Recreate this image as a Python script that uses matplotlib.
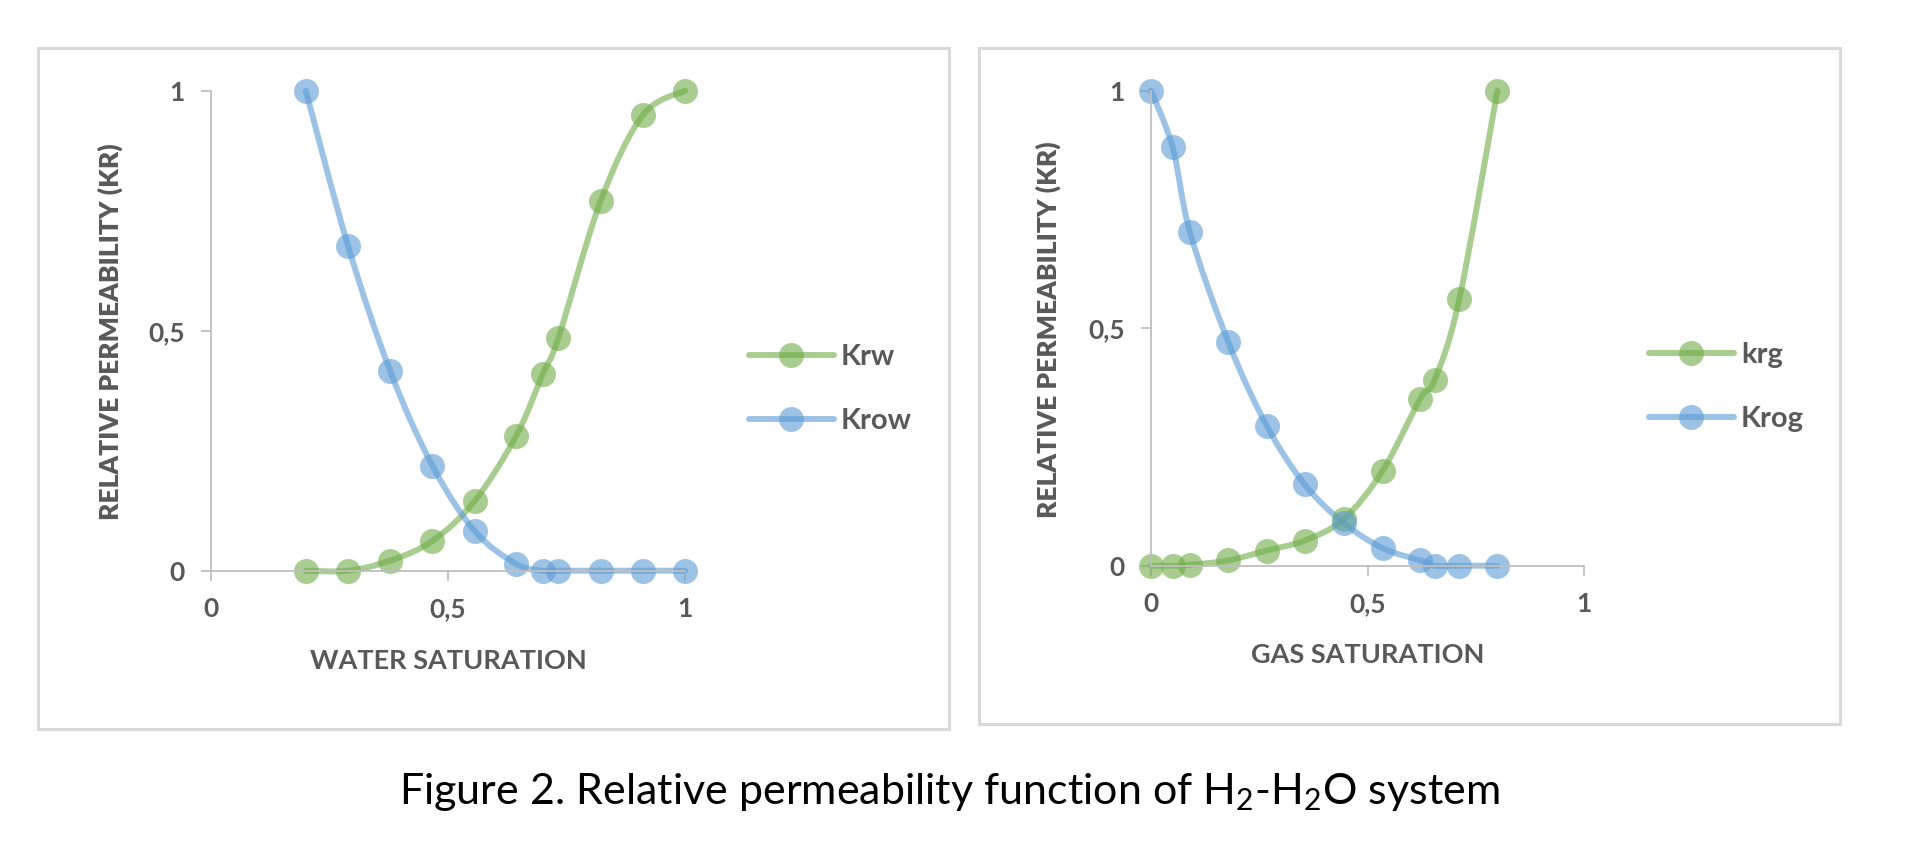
"""Relative permeability curves of the H2-H2O system, drawn like the Excel smoothed scatter charts."""
import matplotlib
matplotlib.use('Agg')
import matplotlib.pyplot as plt
from matplotlib.path import Path
from matplotlib.patches import PathPatch, Rectangle
import numpy as np

plt.rcParams['font.family'] = ['Lato', 'DejaVu Sans']
plt.rcParams['mathtext.fontset'] = 'custom'
plt.rcParams['mathtext.rm'] = 'Lato'

# Water / oil system
swValues = [0.2, 0.289, 0.378, 0.467, 0.556, 0.644, 0.7, 0.733, 0.822, 0.911, 1.0]
krwValues = [0.0, 0.0, 0.021, 0.062, 0.145, 0.281, 0.41, 0.485, 0.77, 0.949, 1.0]
krowValues = [1.0, 0.677, 0.416, 0.219, 0.083, 0.014, 0.0, 0.0, 0.0, 0.0, 0.0]

# Gas / oil system
sgValues = [0.0, 0.05, 0.09, 0.178, 0.267, 0.355, 0.445, 0.535, 0.622, 0.655, 0.712, 0.8]
krgValues = [0.0, 0.0, 0.002, 0.011, 0.032, 0.053, 0.098, 0.2, 0.352, 0.391, 0.561, 1.0]
krogValues = [1.0, 0.881, 0.702, 0.472, 0.295, 0.171, 0.09, 0.037, 0.011, 0.0, 0.0, 0.0]

tickValues = [0, 0.5, 1]
tickLabels = ['0', '0,5', '1']

GREEN = '#70AD47'
BLUE = '#5B9BD5'
TEXT = '#595959'
AXIS = '#BFBFBF'
ALPHA = 0.6
MARKER = 18


def smoothPath(x, y):
    """Excel-like smoothed line: Catmull-Rom segments written as cubic Bezier curves."""
    pts = np.column_stack([x, y]).astype(float)
    verts = [pts[0]]
    codes = [Path.MOVETO]
    for i in range(len(pts) - 1):
        p0 = pts[i - 1] if i > 0 else pts[i]
        p1, p2 = pts[i], pts[i + 1]
        p3 = pts[i + 2] if i + 2 < len(pts) else pts[i + 1]
        verts += [p1 + (p2 - p0) / 6, p2 - (p3 - p1) / 6, p2]
        codes += [Path.CURVE4] * 3
    return Path(verts, codes)


def drawSeries(ax, x, y, color):
    ax.add_patch(PathPatch(smoothPath(x, y), fill=False, edgecolor=color, alpha=ALPHA,
                           linewidth=4.3, capstyle='round', clip_on=False))
    ax.plot(x, y, linestyle='none', marker='o', markersize=MARKER, markeredgewidth=0,
            color=color, alpha=ALPHA, clip_on=False)


def styleAxes(ax, xlabel, ylabelX):
    ax.set_xlim(0, 1)
    ax.set_ylim(0, 1)
    for side in ['top', 'right']:
        ax.spines[side].set_visible(False)
    for side in ['left', 'bottom']:
        ax.spines[side].set_color(AXIS)
        ax.spines[side].set_linewidth(1.3)
    ax.set_xticks(tickValues, tickLabels)
    ax.set_yticks(tickValues, tickLabels)
    ax.tick_params(direction='out', length=7, width=1.3, color=AXIS, labelcolor=TEXT,
                   labelsize=19, pad=12)
    for lab in ax.get_xticklabels() + ax.get_yticklabels():
        lab.set_fontweight('bold')
    ax.set_xlabel(xlabel, fontsize=19.5, fontweight='bold', color=TEXT)
    ax.xaxis.label.set_va('center')
    ax.xaxis.set_label_coords(0.5, -0.188)
    ax.set_ylabel('RELATIVE PERMEABILITY (KR)', fontsize=19, fontweight='heavy', color=TEXT)
    ax.yaxis.label.set_va('center')
    ax.yaxis.set_label_coords(ylabelX, 0.497)


def addLegend(fig, ax, labels, anchor):
    handles = [plt.Line2D([], [], color=GREEN, alpha=ALPHA, linewidth=4.3, solid_capstyle='round',
                          marker='o', markersize=MARKER, markeredgewidth=0),
               plt.Line2D([], [], color=BLUE, alpha=ALPHA, linewidth=4.3, solid_capstyle='round',
                          marker='o', markersize=MARKER, markeredgewidth=0)]
    leg = ax.legend(handles, labels, loc='center left', bbox_to_anchor=anchor,
                    bbox_transform=fig.transFigure, frameon=False, handlelength=2.9,
                    handletextpad=0.25, labelspacing=1.3, borderpad=0, borderaxespad=0,
                    prop={'size': 21, 'weight': 'bold'})
    for text in leg.get_texts():
        text.set_color(TEXT)


fig = plt.figure(figsize=(19.3, 8.48), dpi=100)

# Chart frames
fig.add_artist(Rectangle((38 / 1930, 1 - 729 / 848), 911 / 1930, 681 / 848, transform=fig.transFigure,
                         fill=False, edgecolor='#D9D9D9', linewidth=2.2))
fig.add_artist(Rectangle((979 / 1930, 1 - 724 / 848), 861 / 1930, 676 / 848, transform=fig.transFigure,
                         fill=False, edgecolor='#D9D9D9', linewidth=2.2))

# Left chart: water saturation
axW = fig.add_axes([211 / 1930, 1 - 570.7 / 848, 474 / 1930, 480 / 848])
drawSeries(axW, swValues, krwValues, GREEN)
drawSeries(axW, swValues, krowValues, BLUE)
styleAxes(axW, 'WATER SATURATION', -0.213)
addLegend(fig, axW, ['Krw', 'Krow'], (749 / 1930, 1 - 389 / 848))

# Right chart: gas saturation
axG = fig.add_axes([1151 / 1930, 1 - 565.7 / 848, 433 / 1930, 475 / 848])
drawSeries(axG, sgValues, krgValues, GREEN)
drawSeries(axG, sgValues, krogValues, BLUE)
styleAxes(axG, 'GAS SATURATION', -0.237)
addLegend(fig, axG, ['krg', 'Krog'], (1649 / 1930, 1 - 387 / 848))

fig.text(949 / 1930, 1 - 792 / 848, r'Figure 2. Relative permeability function of H$_2$-H$_2$O system',
         ha='center', va='center', fontsize=31, color='black')

fig.savefig('out.png', dpi=100)
